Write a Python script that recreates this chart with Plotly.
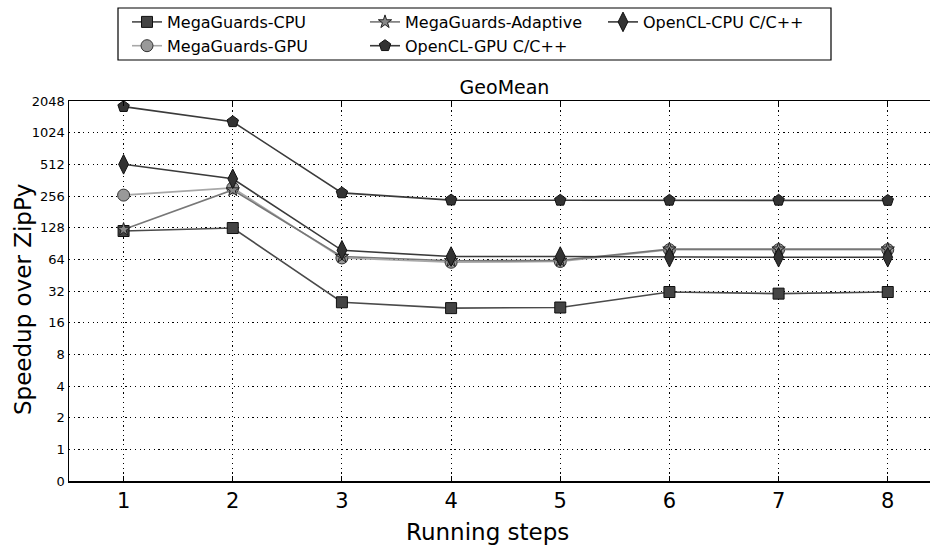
import plotly.graph_objects as go

steps = [1, 2, 3, 4, 5, 6, 7, 8]
mg_cpu = [119, 127, 25, 22, 22.3, 31.3, 30.2, 31.3]
mg_gpu = [261, 306, 66, 60, 61, 79, 79, 79]
mg_adaptive = [123, 292, 68, 62, 62.5, 80, 80, 80]
ocl_gpu = [1810, 1300, 274, 234, 233, 233, 233, 232]
ocl_cpu = [512, 373, 78, 68, 68, 67, 67, 67]

ytick_vals = [0.5, 1, 2, 4, 8, 16, 32, 64, 128, 256, 512, 1024, 2048]
ytick_text = ["0", "1", "2", "4", "8", "16", "32", "64", "128", "256", "512", "1024", "2048"]

series = [
    dict(name="MegaGuards-CPU", y=mg_cpu, symbol="square", size=11, line="#4a4a4a", fill="#444444", edge="#111111", rank=1),
    dict(name="MegaGuards-GPU", y=mg_gpu, symbol="circle", size=12, line="#a8a8a8", fill="#999999", edge="#333333", rank=4),
    dict(name="MegaGuards-Adaptive", y=mg_adaptive, symbol="star", size=10, line="#777777", fill="#888888", edge="#222222", rank=2),
    dict(name="OpenCL-GPU C/C++", y=ocl_gpu, symbol="pentagon", size=12, line="#3a3a3a", fill="#333333", edge="#111111", rank=5),
    dict(name="OpenCL-CPU C/C++", y=ocl_cpu, symbol="diamond-tall", size=14, line="#3a3a3a", fill="#333333", edge="#111111", rank=3),
]

W, H = 930, 545
L, R, T, B = 69, 0, 101, 64
PW, PH = W - L - R, H - T - B

def px_x(px):
    return (px - L) / PW

def px_y(py):
    return (H - B - py) / PH

fig = go.Figure()
for s in series:
    fig.add_trace(go.Scatter(
        x=steps, y=s["y"], name=s["name"], mode="lines+markers",
        line=dict(color=s["line"], width=1.6),
        marker=dict(symbol=s["symbol"], size=s["size"], color=s["fill"],
                    line=dict(color=s["edge"], width=1)),
        legendrank=s["rank"], hoverinfo="skip",
    ))

font = "DejaVu Sans"
fig.update_layout(
    width=W, height=H,
    margin=dict(l=L, r=R, t=T, b=B, autoexpand=False),
    paper_bgcolor="white", plot_bgcolor="white",
    font=dict(family=font, color="black"),
    hovermode=False, dragmode=False,
    title=dict(text="GeoMean", x=504.5 / W, xref="container", xanchor="center",
               y=1 - 87 / H, yref="container", yanchor="middle",
               font=dict(size=19, family=font, color="black")),
    showlegend=True,
    legend=dict(orientation="h", xref="container", yref="container",
                x=127 / W, y=1 - 5 / H, xanchor="left", yanchor="top",
                borderwidth=0, bgcolor="rgba(0,0,0,0)",
                font=dict(size=16, family=font, color="black"),
                entrywidth=193, entrywidthmode="pixels",
                tracegroupgap=0, itemwidth=30),
)
# legend frame
fig.add_shape(type="rect", xref="paper", yref="paper",
              x0=px_x(118), x1=px_x(831), y0=px_y(60), y1=px_y(8),
              line=dict(color="black", width=1.2), fillcolor="rgba(0,0,0,0)")
fig.update_xaxes(
    range=[0.5, 8.387], tickvals=steps, ticktext=[str(v) for v in steps],
    tickfont=dict(size=21, family=font, color="black"),
    showline=True, linecolor="black", linewidth=1.5, mirror="ticks",
    ticks="inside", ticklen=5, tickcolor="black",
    showgrid=True, gridcolor="black", griddash="1.2px,3.5px", gridwidth=1,
    zeroline=False, automargin=False, fixedrange=True,
)
fig.update_yaxes(
    type="log", range=[-0.30103, 3.31133],
    tickvals=ytick_vals, ticktext=ytick_text,
    tickfont=dict(size=13, family=font, color="black"),
    showline=True, linecolor="black", linewidth=1.5, mirror=False,
    ticks="", showgrid=True, gridcolor="black", griddash="1.2px,3.5px", gridwidth=1,
    zeroline=False, automargin=False, fixedrange=True,
)
fig.add_annotation(text="Running steps", xref="paper", yref="paper",
                   x=px_x(487), y=px_y(532), xanchor="center", yanchor="middle",
                   showarrow=False, font=dict(size=23, family=font, color="black"))
fig.add_annotation(text="Speedup over ZipPy", xref="paper", yref="paper",
                   x=px_x(23), y=px_y(300), xanchor="center", yanchor="middle", textangle=-90,
                   showarrow=False, font=dict(size=23, family=font, color="black"))
fig.write_html("out.html", config=dict(displayModeBar=False, staticPlot=True))
